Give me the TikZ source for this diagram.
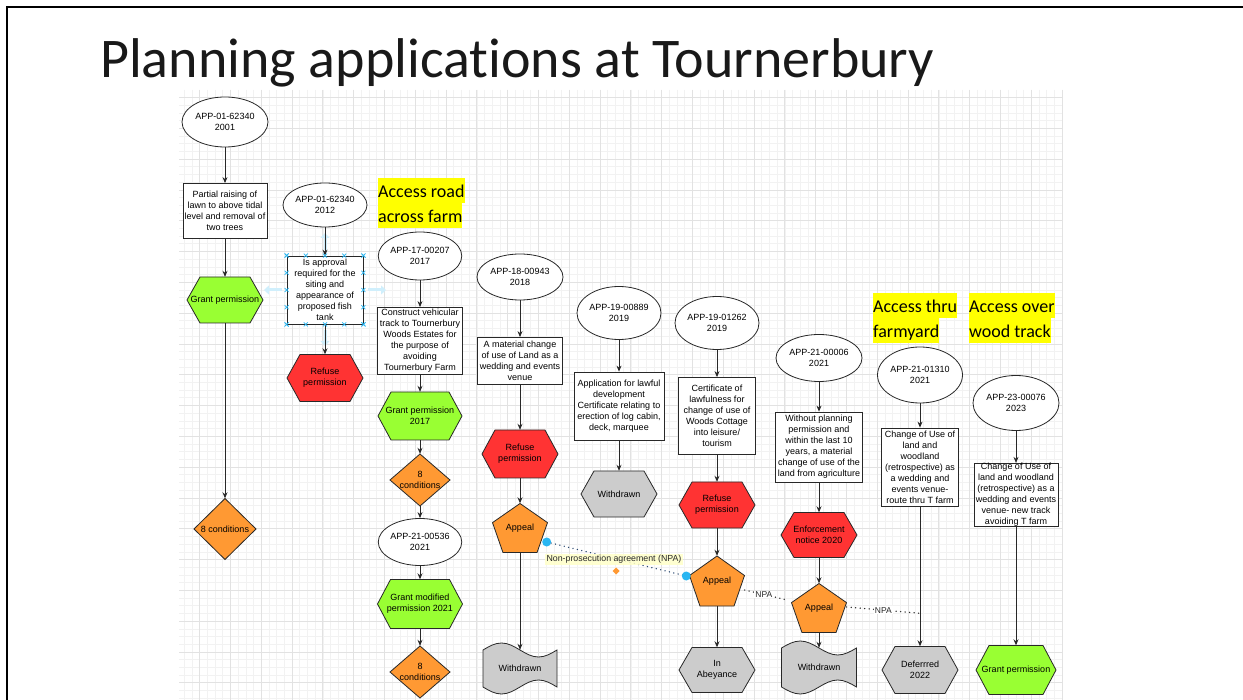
\documentclass[tikz,border=0pt]{standalone}
\usepackage{fontspec}
\setmainfont{Liberation Sans}
\newfontfamily\calib[Ligatures=NoCommon]{Carlito}
\usetikzlibrary{shapes.geometric,arrows.meta,calc}
\definecolor{grn}{RGB}{153,255,51}
\definecolor{rd}{RGB}{255,51,51}
\definecolor{org}{RGB}{255,153,51}
\definecolor{gry}{RGB}{204,204,204}
\definecolor{edgec}{RGB}{40,40,40}
\definecolor{selblue}{RGB}{41,182,242}
\definecolor{hlyel}{RGB}{255,255,0}
\definecolor{npablue}{RGB}{40,70,110}
\definecolor{titlec}{RGB}{25,25,25}
\newcommand\hlline[1]{{\setlength\fboxsep{0pt}\colorbox{hlyel}{\rule[-6pt]{0pt}{25pt}#1}}}
\newcommand\hexin{13}
\tikzset{
  gridminor/.style={draw={rgb,255:red,242;green,242;blue,242},line width=0.6pt},
  gridmajor/.style={draw={rgb,255:red,226;green,226;blue,226},line width=0.7pt},
  shapeline/.style={draw=edgec,line width=0.8pt},
  lbl/.style={inner sep=0pt,align=center,font=\fontsize{9}{11}\selectfont,text=black},
  ell/.style={ellipse,draw=edgec,line width=0.8pt,fill=white,inner sep=0pt,align=center,font=\fontsize{9}{11}\selectfont},
  box/.style={rectangle,draw=edgec,line width=0.8pt,fill=white,inner sep=0pt,align=center,font=\fontsize{9}{11}\selectfont},
  flow/.style={draw=edgec,line width=0.8pt,-{Stealth[length=6pt,width=5pt]}},
  npaline/.style={draw=edgec,line width=1.5pt,dash pattern=on 0.01pt off 4.5pt,line cap=round},
  npalbl/.style={fill=white,inner sep=1pt,font=\fontsize{8.5}{10}\selectfont,text=edgec},
  hl/.style={inner sep=0pt,align=left,font=\calib\fontsize{18}{25}\selectfont,anchor=north west},
  hover/.style={draw=selblue!22,line width=3pt,-{Triangle[length=5pt,width=9pt]}},
  selx/.pic={\draw[selblue,line width=0.7pt] (-2,-2)--(2,2) (-2,2)--(2,-2);},
}
% name x y w h fill text
\newcommand\hexnode[7]{%
  \filldraw[shapeline,fill=#6] ({#2-#4/2},#3) -- ({#2-#4/2+\hexin},{#3-#5/2}) -- ({#2+#4/2-\hexin},{#3-#5/2}) -- ({#2+#4/2},#3) -- ({#2+#4/2-\hexin},{#3+#5/2}) -- ({#2-#4/2+\hexin},{#3+#5/2}) -- cycle;
  \node[lbl,minimum width=#4,minimum height=#5] (#1) at (#2,#3) {#7};}
\newcommand\diamnode[6]{%
  \filldraw[shapeline,fill=org] (#2,{#3-#5/2}) -- ({#2+#4/2},#3) -- (#2,{#3+#5/2}) -- ({#2-#4/2},#3) -- cycle;
  \node[lbl,minimum width=#4,minimum height=#5] (#1) at (#2,#3) {#6};}
\newcommand\pentnode[5]{%
  \filldraw[shapeline,fill=org] (#2,{#3-#5/2}) -- ({#2+#4/2},{#3-#5/2+0.39*#5}) -- ({#2+0.31*#4},{#3+#5/2}) -- ({#2-0.31*#4},{#3+#5/2}) -- ({#2-#4/2},{#3-#5/2+0.39*#5}) -- cycle;
  \node[lbl,minimum width=#4,minimum height=#5] (#1) at (#2,#3) {Appeal};}
% name x y w h(between wave midlines) text ; amplitude 7
\newcommand\tapenode[6]{%
  \filldraw[shapeline,fill=gry] ({#2-#4/2},{#3-#5/2}) sin ({#2-#4/4},{#3-#5/2-7}) cos (#2,{#3-#5/2}) sin ({#2+#4/4},{#3-#5/2+7}) cos ({#2+#4/2},{#3-#5/2})
     -- ({#2+#4/2},{#3+#5/2}) sin ({#2+#4/4},{#3+#5/2-7}) cos (#2,{#3+#5/2}) sin ({#2-#4/4},{#3+#5/2+7}) cos ({#2-#4/2},{#3+#5/2}) -- cycle;
  \node[lbl,minimum width=#4,minimum height=#5] (#1) at (#2,#3) {#6};}
\begin{document}
\begin{tikzpicture}[x=1pt,y=-1pt]
\useasboundingbox (0,0) rectangle (1243,700);
\fill[white] (0,0) rectangle (1243,700);
% grid
\foreach \i in {0,...,114} \draw[gridminor] ({1062-\i*7.7},90) -- ({1062-\i*7.7},700);
\foreach \i in {0,...,78} \draw[gridminor] (179,{698.1-\i*7.7}) -- (1063,{698.1-\i*7.7});
\foreach \i in {0,...,28} \draw[gridmajor] ({1062-\i*30.8},90) -- ({1062-\i*30.8},700);
\foreach \i in {0,...,19} \draw[gridmajor] (179,{682.7-\i*30.8}) -- (1063,{682.7-\i*30.8});
% frame
\draw[line width=2.4pt] (7,701) -- (7,7) -- (1244,7);
% title
\node[anchor=base west,inner sep=0pt,text=titlec,font=\calib\fontsize{56}{60}\selectfont] (title) at (100,78) {Planning applications at Tournerbury};
% highlighted labels
\node[hl] (acc3) at (378,178) {\hlline{Access road}\\\hlline{across farm}};
\node[hl] (acc8) at (873,293) {\hlline{Access thru}\\\hlline{farmyard}};
\node[hl] (acc9) at (969,293) {\hlline{Access over}\\\hlline{wood track}};

% column 1
\node[ell,minimum width=86,minimum height=50] (e1) at (225,122) {APP-01-62340\\2001};
\node[box,minimum width=84,minimum height=55] (b1) at (225,211) {Partial raising of\\lawn to above tidal\\level and removal of\\two trees};
\hexnode{g1}{225}{300}{76}{46}{grn}{Grant permission}
\diamnode{d1}{225}{529}{62}{61}{8 conditions}

% column 2 (selected box)
\node[ell,minimum width=84,minimum height=44] (e2) at (325,205) {APP-01-62340\\2012};
\draw[hover] (325,250) -- (325,233);
\draw[hover] (282,290) -- (264,290);
\draw[hover] (368,290) -- (386,290);
\draw[hover] (325,330) -- (325,346);
\node[box,minimum width=76,minimum height=68] (b2) at (325,290) {Is approval\\required for the\\siting and\\appearance of\\proposed fish\\tank};
\hexnode{r2}{325}{378}{76}{47}{rd}{Refuse\\permission}

% column 3
\node[ell,minimum width=83,minimum height=48] (e3) at (420,256) {APP-17-00207\\2017};
\node[box,minimum width=85,minimum height=67] (b3) at (420,341) {Construct vehicular\\track to Tournerbury\\Woods Estates for\\the purpose of\\avoiding\\Tournerbury Farm};
\hexnode{g3}{420}{416}{84}{48}{grn}{Grant permission\\2017}
\diamnode{d3}{420}{480}{60}{52}{8\\conditions}
\node[ell,minimum width=70,minimum height=47] (e3b) at (420,542) {APP-21-00536\\2021};
\hexnode{g3b}{420}{604}{85}{49}{grn}{Grant modified\\permission 2021}
\diamnode{d3b}{420}{672}{60}{52}{8\\conditions}

% column 4
\node[ell,minimum width=86,minimum height=46] (e4) at (520,277) {APP-18-00943\\2018};
\node[box,minimum width=85,minimum height=47] (b4) at (520,361) {A material change\\of use of Land as a\\wedding and events\\venue};
\hexnode{r4}{520}{454}{76}{48}{rd}{Refuse\\permission}
\pentnode{ap4}{520}{528}{55}{49}
\tapenode{w4}{520}{668.5}{74}{37}{Withdrawn}

% column 5
\node[ell,minimum width=84,minimum height=53] (e5) at (619,313) {APP-19-00889\\2019};
\node[box,minimum width=90,minimum height=68] (b5) at (619,406) {Application for lawful\\development\\Certificate relating to\\erection of log cabin,\\deck, marquee};
\hexnode{w5}{619}{494}{76}{46}{gry}{Withdrawn}

% column 6
\node[ell,minimum width=84,minimum height=53] (e6) at (717,323) {APP-19-01262\\2019};
\node[box,minimum width=77,minimum height=77] (b6) at (717,416) {Certificate of\\lawfulness for\\change of use of\\Woods Cottage\\into leisure/\\tourism};
\hexnode{r6}{717}{505}{76}{46}{rd}{Refuse\\permission}
\pentnode{ap6}{717}{581}{55}{50}
\hexnode{ab6}{717}{670}{76}{45}{gry}{In\\Abeyance}

% column 7
\node[ell,minimum width=86,minimum height=47] (e7) at (819,358) {APP-21-00006\\2021};
\node[box,minimum width=87,minimum height=70] (b7) at (819,447) {Without planning\\permission and\\within the last 10\\years, a material\\change of use of the\\land from agriculture};
\hexnode{en7}{819}{535}{76}{45}{rd}{Enforcement\\notice 2020}
\pentnode{ap7}{819}{608}{55}{49}
\tapenode{w7}{819}{667.5}{75}{39}{Withdrawn}

% column 8
\node[ell,minimum width=85,minimum height=56] (e8) at (920,375) {APP-21-01310\\2021};
\node[box,minimum width=77,minimum height=78] (b8) at (920,467) {Change of Use of\\land and\\woodland\\(retrospective) as\\a wedding and\\events venue-\\route thru T farm};
\hexnode{def8}{920}{670}{76}{47}{gry}{Deferrred\\2022}

% column 9
\node[ell,minimum width=86,minimum height=55] (e9) at (1016,403) {APP-23-00076\\2023};
\node[box,minimum width=84,minimum height=62] (b9) at (1016,495) {Change of Use of\\land and woodland\\(retrospective) as a\\wedding and events\\venue- new track\\avoiding T farm};
\hexnode{gp9}{1016}{670}{80}{49}{grn}{Grant permission}

% connectors
\draw[flow] (e1) -- (b1);
\draw[flow] (b1) -- (g1);
\draw[flow] (g1) -- (d1);
\draw[flow] (e2) -- (b2);
\draw[flow] (b2) -- (r2);
\draw[flow] (e3) -- (b3);
\draw[flow] (b3) -- (g3);
\draw[flow] (g3) -- (d3);
\draw[flow] (d3) -- (e3b);
\draw[flow] (e3b) -- (g3b);
\draw[flow] (g3b) -- (d3b);
\draw[flow] (e4) -- (b4);
\draw[flow] (b4) -- (r4);
\draw[flow] (r4) -- (ap4);
\draw[flow] (ap4) -- (w4);
\draw[flow] (e5) -- (b5);
\draw[flow] (b5) -- (w5);
\draw[flow] (e6) -- (b6);
\draw[flow] (b6) -- (r6);
\draw[flow] (r6) -- (ap6);
\draw[flow] (ap6) -- (ab6);
\draw[flow] (e7) -- (b7);
\draw[flow] (b7) -- (en7);
\draw[flow] (en7) -- (ap7);
\draw[flow] (ap7) -- (w7);
\draw[flow] (e8) -- (b8);
\draw[flow] (b8) -- (def8);
\draw[flow] (e9) -- (b9);
\draw[flow] (b9) -- (gp9);

% selection markers round b2
\foreach \t in {0,0.25,0.5,0.75,1}{
  \pic at ($(b2.north west)!\t!(b2.north east)$) {selx};
  \pic at ($(b2.south west)!\t!(b2.south east)$) {selx};
  \pic at ($(b2.north west)!\t!(b2.south west)$) {selx};
  \pic at ($(b2.north east)!\t!(b2.south east)$) {selx};
}

% NPA connectors
\coordinate (npa1s) at ($(ap4.east)+(-1,14)$);
\coordinate (npa1e) at ($(ap6.west)+(-3,-5)$);
\draw[npaline,draw=npablue] (npa1s) -- (npa1e);
\node[fill={rgb,255:red,255;green,255;blue,200},fill opacity=0.85,text opacity=1,inner sep=1.5pt,font=\fontsize{8.8}{10}\selectfont,text=edgec] (npa1l) at (614,559.5) {Non-prosecution agreement (NPA)};
\fill[selblue] (npa1s) circle (4.5);
\fill[selblue] (npa1e) circle (4.5);
\fill[org] (616,567.5) -- (619.5,571) -- (616,574.5) -- (612.5,571) -- cycle;

\coordinate (npa2s) at ($(ap6.east)+(0,9)$);
\coordinate (npa2e) at ($(ap7.west)+(-4,-8)$);
\draw[npaline] (npa2s) -- node[npalbl,pos=0.45] (npa2l) {NPA} (npa2e);

\coordinate (npa3s) at ($(ap7.east)+(0,-1)$);
\coordinate (c8) at ($(b8.south)!0.764!(def8.north)$);
\draw[npaline] (npa3s) -- node[npalbl,pos=0.5] (npa3l) {NPA} (c8);
\end{tikzpicture}
\end{document}
